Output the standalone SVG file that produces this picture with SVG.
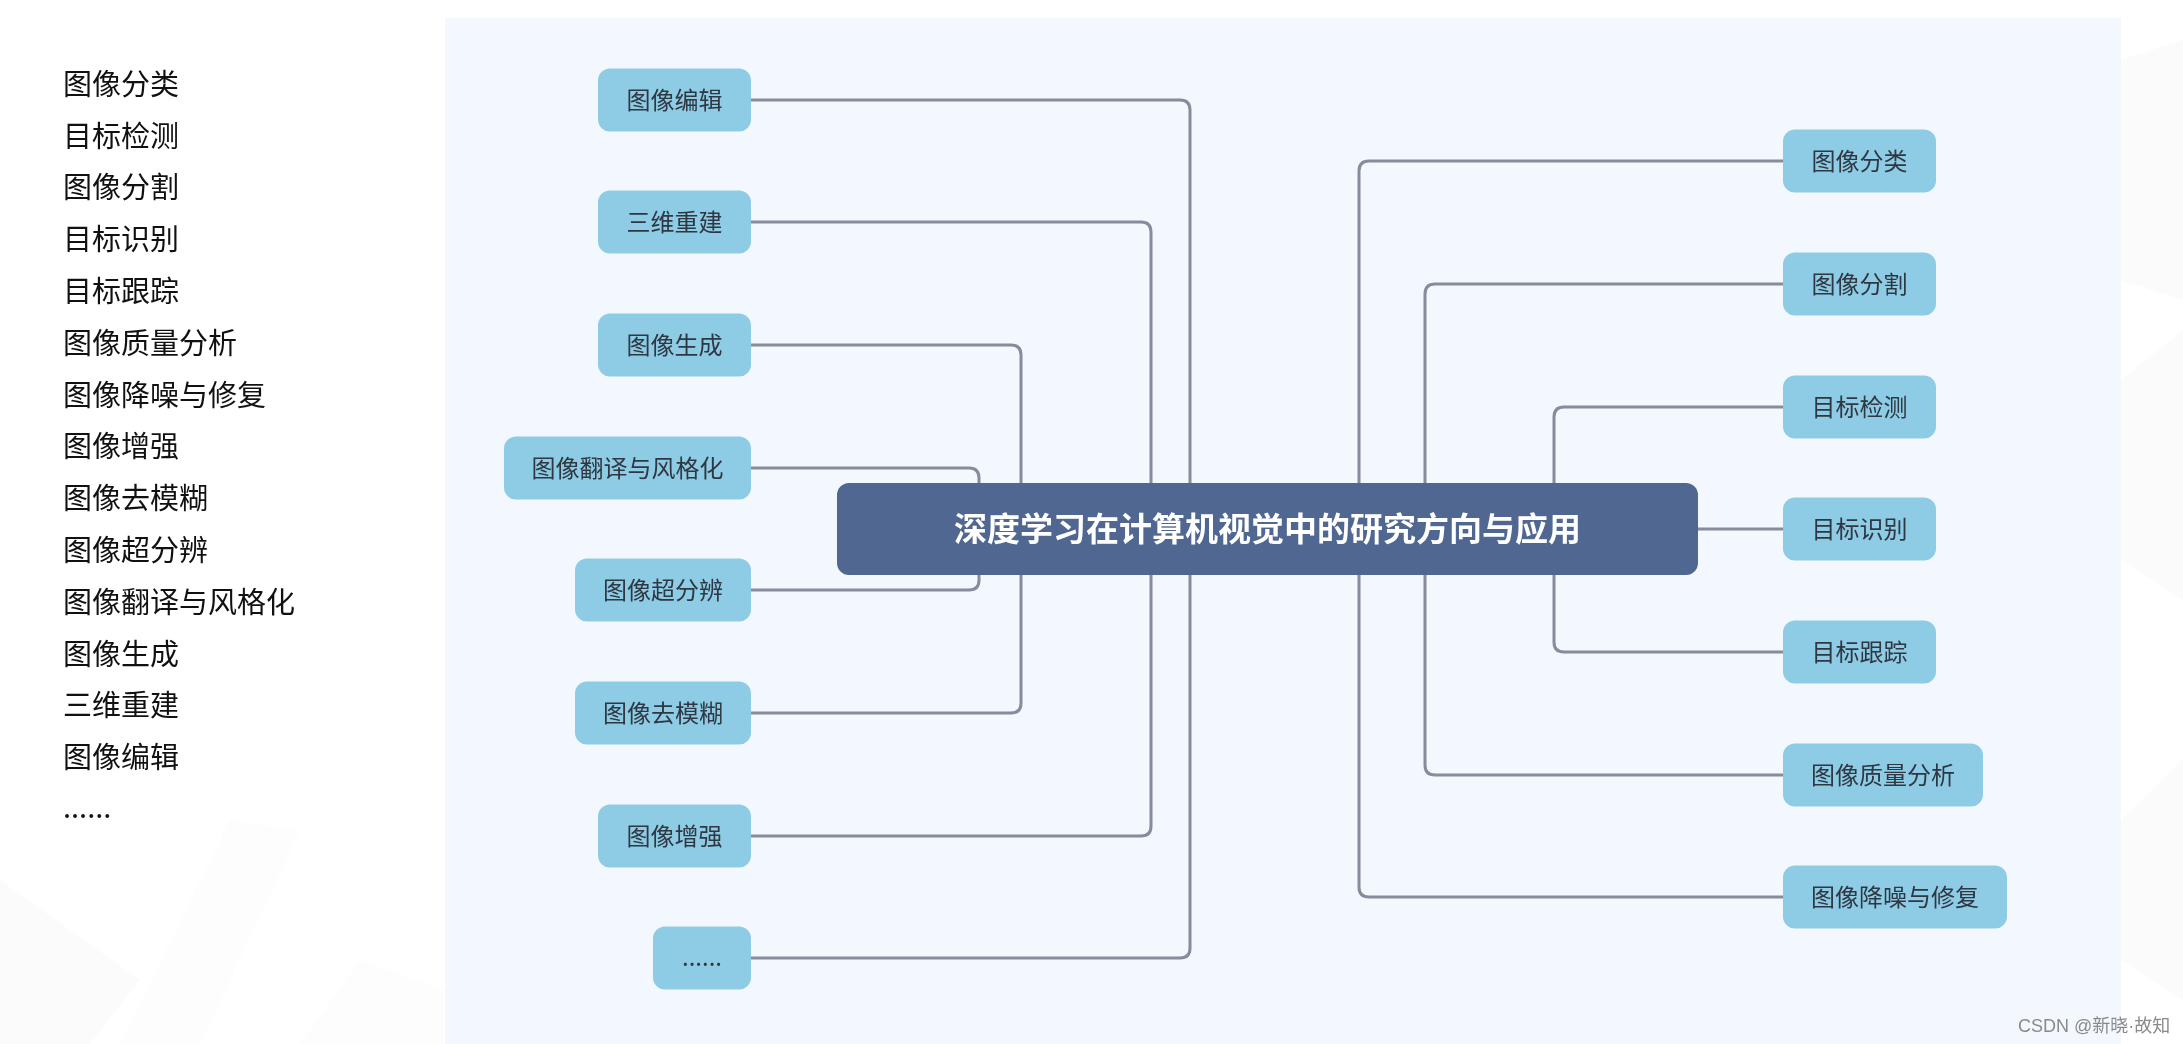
<svg xmlns="http://www.w3.org/2000/svg" width="2183" height="1044" viewBox="0 0 2183 1044">
<defs>
<style>
.bgshape{fill:#ececec;}
.list{font-family:"Noto Sans CJK SC","Noto Sans",sans-serif;font-size:29px;fill:#111111;}
.node rect{fill:#8ecbe4;}
.node text{font-family:"Noto Sans CJK SC","Noto Sans",sans-serif;font-size:24px;fill:#2e3742;text-anchor:middle;}
.root rect{fill:#4f6791;}
.root text{font-family:"Noto Sans CJK SC","Noto Sans",sans-serif;font-size:33px;font-weight:600;fill:#ffffff;text-anchor:middle;}
.conn path{fill:none;stroke:#858c9c;stroke-width:3;stroke-linecap:round;}
.wm{font-family:"Liberation Sans","Noto Sans CJK SC",sans-serif;font-size:18px;fill:#8a8a8a;}
</style>
</defs>
<rect x="0" y="0" width="2183" height="1044" fill="#ffffff"/>
<g id="background" opacity="0.4">
<polygon class="bgshape" points="0,880 140,980 90,1044 0,1044" opacity="0.4"/>
<polygon class="bgshape" points="120,1044 230,820 300,830 200,1044" opacity="0.3"/>
<polygon class="bgshape" points="300,1044 360,960 445,990 445,1044" opacity="0.25"/>
<polygon class="bgshape" points="2121,60 2183,40 2183,300 2121,280" opacity="0.6"/>
<polygon class="bgshape" points="2121,380 2183,330 2183,600 2121,560" opacity="0.45"/>
<polygon class="bgshape" points="2121,820 2183,760 2183,1000 2121,960" opacity="0.5"/>
</g>
<rect id="panel" x="445" y="18" width="1676" height="1026" fill="#f3f8fe"/>
<g id="list">
<text class="list" x="63" y="94.5">图像分类</text>
<text class="list" x="63" y="146.5">目标检测</text>
<text class="list" x="63" y="198">图像分割</text>
<text class="list" x="63" y="250">目标识别</text>
<text class="list" x="63" y="302">目标跟踪</text>
<text class="list" x="63" y="353.5">图像质量分析</text>
<text class="list" x="63" y="405.5">图像降噪与修复</text>
<text class="list" x="63" y="457">图像增强</text>
<text class="list" x="63" y="509">图像去模糊</text>
<text class="list" x="63" y="561">图像超分辨</text>
<text class="list" x="63" y="612.5">图像翻译与风格化</text>
<text class="list" x="63" y="664.5">图像生成</text>
<text class="list" x="63" y="716">三维重建</text>
<text class="list" x="63" y="768">图像编辑</text>
<text class="list" x="63" y="818">......</text>
</g>
<g id="connectors" class="conn">
<path d="M751,100 H1180 Q1190,100 1190,110 V483"/>
<path d="M751,222 H1141 Q1151,222 1151,232 V483"/>
<path d="M751,345 H1011 Q1021,345 1021,355 V483"/>
<path d="M751,468 H969 Q979,468 979,478 V483"/>
<path d="M751,590 H969 Q979,590 979,580 V575"/>
<path d="M751,713 H1011 Q1021,713 1021,703 V575"/>
<path d="M751,836 H1141 Q1151,836 1151,826 V575"/>
<path d="M751,958 H1180 Q1190,958 1190,948 V575"/>
<path d="M1783,161 H1369 Q1359,161 1359,171 V483"/>
<path d="M1783,284 H1435 Q1425,284 1425,294 V483"/>
<path d="M1783,407 H1564 Q1554,407 1554,417 V483"/>
<path d="M1698,529 H1783"/>
<path d="M1783,652 H1564 Q1554,652 1554,642 V575"/>
<path d="M1783,775 H1435 Q1425,775 1425,765 V575"/>
<path d="M1783,897 H1369 Q1359,897 1359,887 V575"/>
</g>
<g id="root" class="root">
<rect x="837" y="483" width="861" height="92" rx="12"/>
<text x="1267.5" y="541">深度学习在计算机视觉中的研究方向与应用</text>
</g>
<g id="n-edit" class="node"><rect x="598" y="68.5" width="153" height="63" rx="12"/><text x="674.5" y="109">图像编辑</text></g>
<g id="n-3d" class="node"><rect x="598" y="190.5" width="153" height="63" rx="12"/><text x="674.5" y="231">三维重建</text></g>
<g id="n-gen" class="node"><rect x="598" y="313.5" width="153" height="63" rx="12"/><text x="674.5" y="354">图像生成</text></g>
<g id="n-trans" class="node"><rect x="504" y="436.5" width="247" height="63" rx="12"/><text x="627.5" y="477">图像翻译与风格化</text></g>
<g id="n-sr" class="node"><rect x="575" y="558.5" width="176" height="63" rx="12"/><text x="663" y="599">图像超分辨</text></g>
<g id="n-deblur" class="node"><rect x="575" y="681.5" width="176" height="63" rx="12"/><text x="663" y="722">图像去模糊</text></g>
<g id="n-enh" class="node"><rect x="598" y="804.5" width="153" height="63" rx="12"/><text x="674.5" y="845">图像增强</text></g>
<g id="n-more" class="node"><rect x="653" y="926.5" width="98" height="63" rx="12"/><text x="702" y="966">......</text></g>
<g id="n-cls" class="node"><rect x="1783" y="129.5" width="153" height="63" rx="12"/><text x="1859.5" y="170">图像分类</text></g>
<g id="n-seg" class="node"><rect x="1783" y="252.5" width="153" height="63" rx="12"/><text x="1859.5" y="293">图像分割</text></g>
<g id="n-det" class="node"><rect x="1783" y="375.5" width="153" height="63" rx="12"/><text x="1859.5" y="416">目标检测</text></g>
<g id="n-rec" class="node"><rect x="1783" y="497.5" width="153" height="63" rx="12"/><text x="1859.5" y="538">目标识别</text></g>
<g id="n-trk" class="node"><rect x="1783" y="620.5" width="153" height="63" rx="12"/><text x="1859.5" y="661">目标跟踪</text></g>
<g id="n-qa" class="node"><rect x="1783" y="743.5" width="200" height="63" rx="12"/><text x="1883" y="784">图像质量分析</text></g>
<g id="n-dn" class="node"><rect x="1783" y="865.5" width="224" height="63" rx="12"/><text x="1895" y="906">图像降噪与修复</text></g>
<text class="wm" x="2018" y="1032">CSDN @新晓·故知</text>
</svg>
